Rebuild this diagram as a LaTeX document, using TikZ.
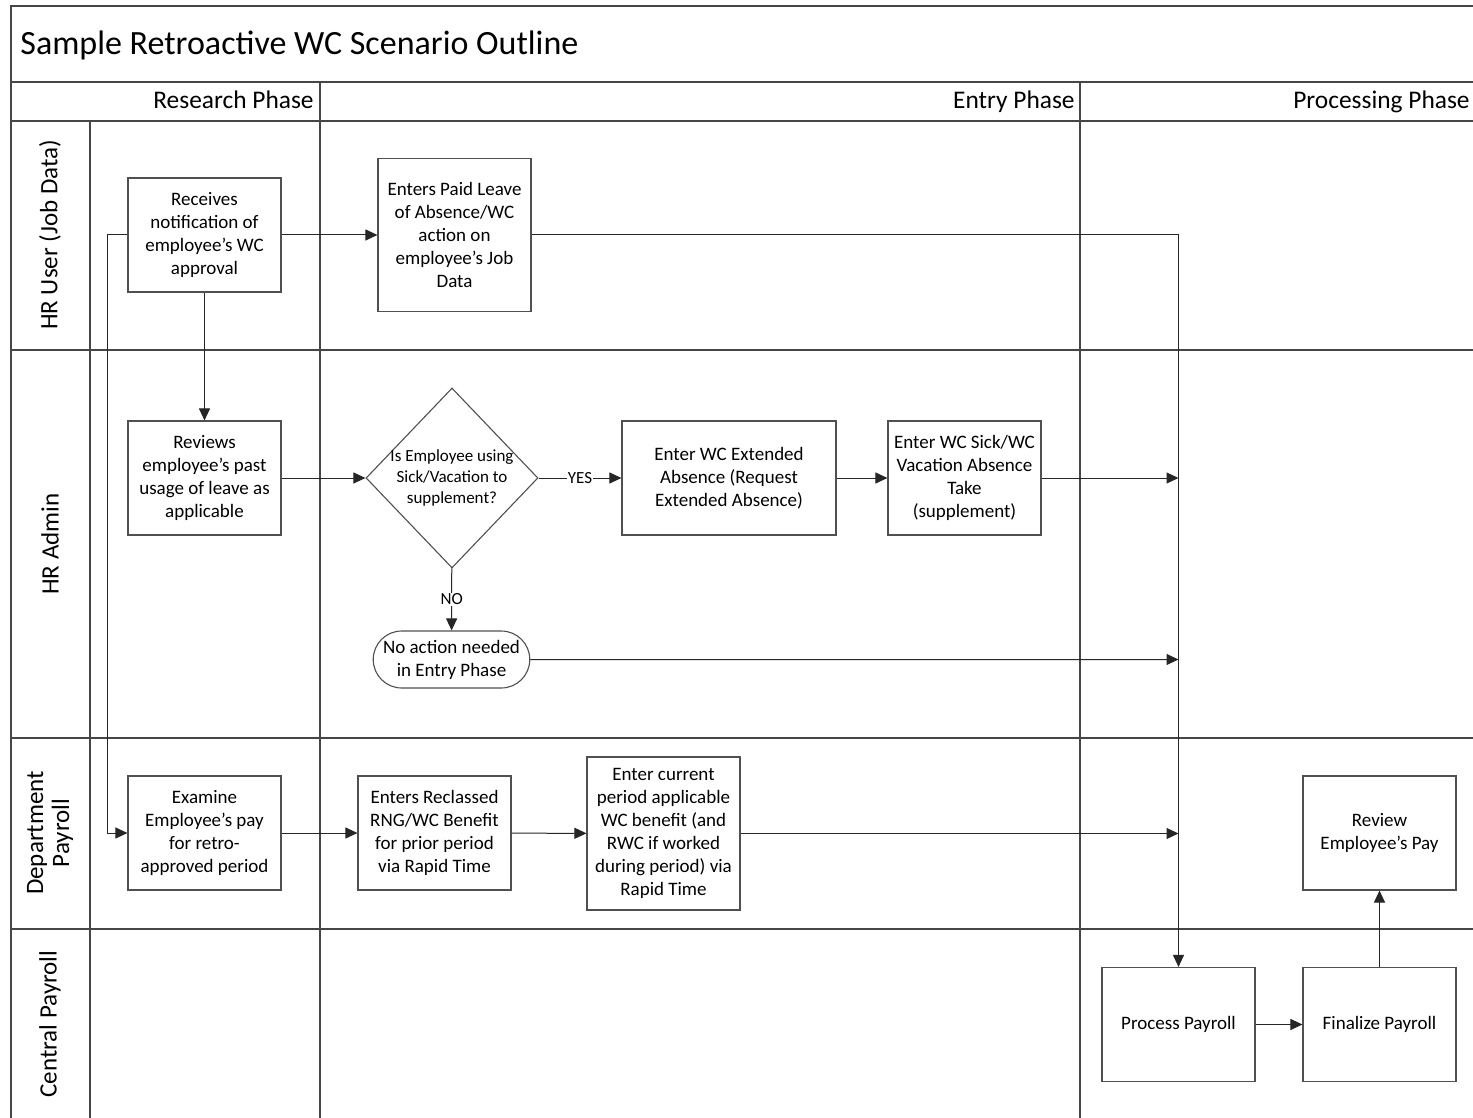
\documentclass[tikz,border=0pt]{standalone}
\usepackage{fontspec}
\setmainfont{Carlito}
\usetikzlibrary{arrows.meta,shapes.geometric,shapes.misc}
\definecolor{lanegray}{RGB}{70,70,70}
\definecolor{boxgray}{RGB}{80,80,80}
\tikzset{
  lane/.style={draw=lanegray, line width=0.7pt},
  task/.style={draw=boxgray, line width=0.55pt, fill=white, align=center,
    font=\fontsize{9.5}{11.5}\selectfont, minimum width=76.5pt, minimum height=57pt, inner sep=1pt},
  tall/.style={task, minimum height=76.5pt},
  decision/.style={diamond, draw=boxgray, line width=0.55pt, fill=white, align=center,
    font=\fontsize{8.5}{10.5}\selectfont, minimum width=86pt, minimum height=90pt, inner sep=-3pt},
  terminal/.style={rounded rectangle, draw=boxgray, line width=0.55pt, fill=white, align=center,
    font=\fontsize{9.5}{11.5}\selectfont, minimum width=76.5pt, minimum height=28.5pt, inner sep=1pt},
  flow/.style={draw=black!85, line width=0.5pt, -{Triangle[length=6pt,width=5.5pt]}},
  yn/.style={fill=white, inner sep=0.6pt, font=\fontsize{8.5}{10}\selectfont},
  phase/.style={anchor=base east, inner sep=0pt, font=\fontsize{12.7}{15}\selectfont},
  role/.style={rotate=90, align=center, font=\fontsize{12.5}{14}\selectfont}
}
\begin{document}
\begin{tikzpicture}[x=0.5pt,y=-0.5pt]
  \useasboundingbox (0,0) rectangle (1473,1118);
  % pool and lanes
  \draw[lane] (1473,6) -- (11,6) -- (11,1118);
  \draw[lane] (11,82) -- (1473,82);
  \draw[lane] (11,121) -- (1473,121);
  \draw[lane] (11,350) -- (1473,350);
  \draw[lane] (11,738) -- (1473,738);
  \draw[lane] (11,929) -- (1473,929);
  \draw[lane] (90,121) -- (90,1118);
  \draw[lane] (320,82) -- (320,1118);
  \draw[lane] (1080,82) -- (1080,1118);

  \node[anchor=base west, inner sep=0pt, font=\fontsize{17}{20}\selectfont] (title) at (20,55) {Sample Retroactive WC Scenario Outline};
  \node[phase] (research) at (314,109) {Research Phase};
  \node[phase] (entry) at (1075,109) {Entry Phase};
  \node[phase] (processing) at (1470,109) {Processing Phase};

  \node[role] (hruser) at (50,235) {HR User (Job Data)};
  \node[role] (hradmin) at (50,544) {HR Admin};
  \node[role, font=\fontsize{12.5}{13}\selectfont] (deptpay) at (50,833) {Department\\Payroll};
  \node[role] (centralpay) at (50,1024) {Central Payroll};

  % steps
  \node[task] (recv) at (204.5,235) {Receives\\notification of\\employee’s WC\\approval};
  \node[tall] (enterpl) at (454.5,235) {Enters Paid Leave\\of Absence/WC\\action on\\employee’s Job\\Data};
  \node[task] (reviews) at (204.5,478) {Reviews\\employee’s past\\usage of leave as\\applicable};
  \node[decision] (dec) at (452,478) {Is Employee using\\Sick/Vacation to\\supplement?};
  \node[task, minimum width=107pt] (extended) at (729,478) {Enter WC Extended\\Absence (Request\\Extended Absence)};
  \node[task] (sickwc) at (964.5,478) {Enter WC Sick/WC\\Vacation Absence\\Take\\(supplement)};
  \node[terminal] (noaction) at (451.5,659.5) {No action needed\\in Entry Phase};
  \node[task] (examine) at (204.5,833) {Examine\\Employee’s pay\\for retro-\\approved period};
  \node[task] (reclass) at (434.5,833) {Enters Reclassed\\RNG/WC Benefit\\for prior period\\via Rapid Time};
  \node[tall] (current) at (663.5,833.5) {Enter current\\period applicable\\WC benefit (and\\RWC if worked\\during period) via\\Rapid Time};
  \node[task] (review) at (1379.5,833) {Review\\Employee’s Pay};
  \node[task] (process) at (1178.5,1024.5) {Process Payroll};
  \node[task] (finalize) at (1379.5,1024.5) {Finalize Payroll};

  \coordinate (inA) at (process.north |- sickwc.east);
  \coordinate (inB) at (process.north |- noaction.east);
  \coordinate (inC) at (process.north |- current.east);

  % connectors
  \draw[flow] (recv) -- (enterpl);
  \draw[flow] (enterpl.east) -| (process.north);
  \draw[flow] (recv) -- (reviews);
  \draw[flow] (recv.west) -- ++(-20,0) |- (examine.west);
  \draw[flow] (reviews) -- (dec);
  \draw[flow] (dec) -- node[yn] (yes) {YES} (extended);
  \draw[flow] (dec) -- node[yn] (no) {NO} (noaction);
  \draw[flow] (extended) -- (sickwc);
  \draw[flow] (sickwc) -- (inA);
  \draw[flow] (noaction) -- (inB);
  \draw[flow] (examine) -- (reclass);
  \draw[flow] (reclass) -- (current);
  \draw[flow] (current.east) -- (inC);
  \draw[flow] (process) -- (finalize);
  \draw[flow] (finalize) -- (review);
\end{tikzpicture}
\end{document}
